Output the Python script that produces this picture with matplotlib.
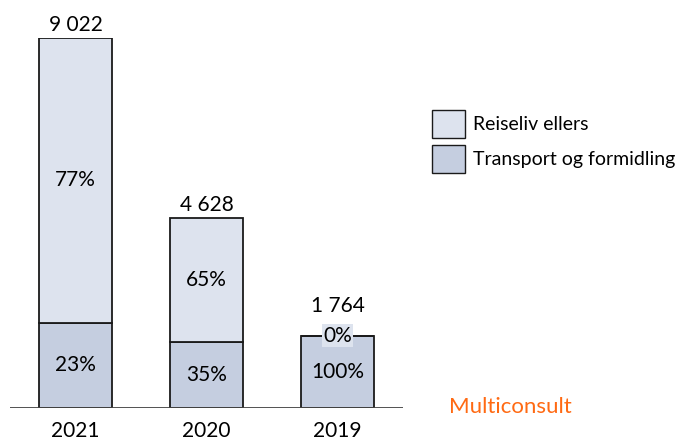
import matplotlib.pyplot as plt
from matplotlib.patches import Patch

years = ['2021', '2020', '2019']
totals = [9022, 4628, 1764]
total_labels = ['9 022', '4 628', '1 764']
transport_pct = [23, 35, 100]
reiseliv_pct = [77, 65, 0]

light = '#DDE3EE'
dark = '#C5CEE0'

plt.rcParams['font.family'] = ['Lato', 'DejaVu Sans']
fs = 15

fig = plt.figure(figsize=(6.98, 4.4), dpi=100)
ax = fig.add_axes([10 / 698, 32 / 440, 393 / 698, 370 / 440])

x = list(range(len(years)))
transport = [t * p / 100 for t, p in zip(totals, transport_pct)]
reiseliv = [t - b for t, b in zip(totals, transport)]

ax.bar(x, transport, width=0.557, color=dark, edgecolor='#1a1a1a', linewidth=1.3, zorder=2)
ax.bar(x, reiseliv, bottom=transport, width=0.557, color=light, edgecolor='#1a1a1a', linewidth=1.3, zorder=2)

for i in x:
    extra = 12 if reiseliv_pct[i] == 0 else 0
    ax.annotate(total_labels[i], (i, totals[i]), xytext=(0, 2 + extra), textcoords='offset points',
                ha='center', va='bottom', fontsize=fs)
    ax.text(i, transport[i] / 2, f'{transport_pct[i]}%', ha='center', va='center', fontsize=fs, zorder=3)
    if reiseliv_pct[i] > 0:
        ax.text(i, transport[i] + reiseliv[i] / 2, f'{reiseliv_pct[i]}%', ha='center', va='center',
                fontsize=fs, zorder=3)
    else:
        ax.text(i, totals[i], f'{reiseliv_pct[i]}%', ha='center', va='center', fontsize=fs, zorder=3,
                bbox=dict(facecolor=light, edgecolor='none', pad=1.0))
    ax.annotate(years[i], (i, 0), xytext=(0, -9), textcoords='offset points',
                ha='center', va='top', fontsize=fs)

ax.set_xlim(-0.5, 2.5)
ax.set_ylim(0, 9022)
ax.axhline(0, color='#444444', linewidth=1.3, zorder=3)
for s in ax.spines.values():
    s.set_visible(False)
ax.set_xticks([])
ax.set_yticks([])

handles = [Patch(facecolor=light, edgecolor='#1a1a1a', label='Reiseliv ellers'),
           Patch(facecolor=dark, edgecolor='#1a1a1a', label='Transport og formidling')]
fig.legend(handles=handles, loc='upper left', bbox_to_anchor=(432 / 698, 1 - 110 / 440), frameon=False,
           fontsize=14, handlelength=1.7, handleheight=1.8, handletextpad=0.4, labelspacing=0.4,
           borderpad=0, borderaxespad=0)

fig.text(449 / 698, 1 - 407 / 440, 'Multiconsult', color='#FF6A13', fontsize=16,
         ha='left', va='center')

fig.savefig('out.png', dpi=100)
